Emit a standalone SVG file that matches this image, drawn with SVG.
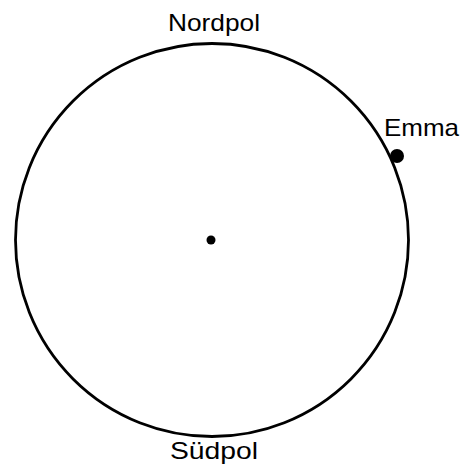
<svg xmlns="http://www.w3.org/2000/svg" width="474" height="467" viewBox="0 0 474 467">
<style>
text{font-family:"Liberation Sans",Arial,sans-serif;font-size:24px;fill:#000}
</style>
<rect width="474" height="467" fill="#fff"/>
<g id="globe"><circle cx="212" cy="240" r="196.5" fill="none" stroke="#000" stroke-width="2.8"/></g>
<g id="center"><circle cx="211" cy="240" r="4.5" fill="#000"/></g>
<g id="emma"><circle cx="397" cy="156" r="7" fill="#000"/><text x="384" y="136" textLength="75" lengthAdjust="spacingAndGlyphs">Emma</text></g>
<g id="nord"><text x="168" y="31" textLength="92" lengthAdjust="spacingAndGlyphs">Nordpol</text></g>
<g id="sued"><text x="170" y="459" textLength="88" lengthAdjust="spacingAndGlyphs">Südpol</text></g>
</svg>
